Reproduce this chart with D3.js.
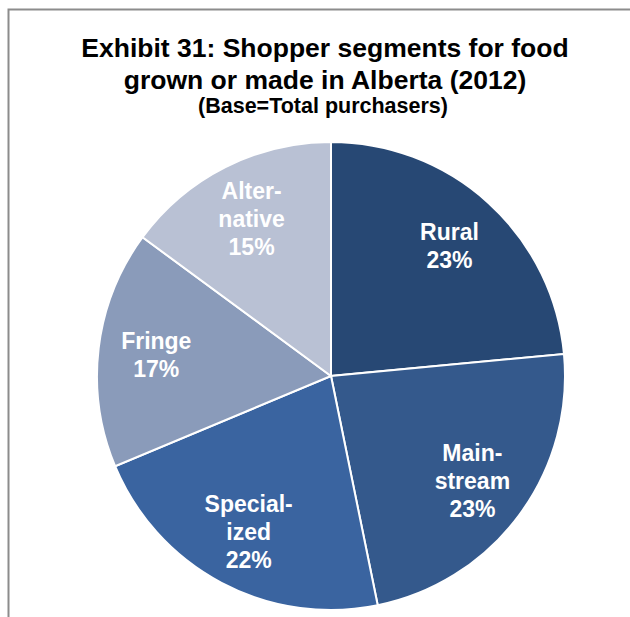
<!DOCTYPE html>
<html>
<head>
<meta charset="utf-8">
<script src="https://cdn.jsdelivr.net/npm/d3@7/dist/d3.min.js"></script>
<style>
  body { margin: 0; background: #fff; }
  svg { display: block; font-family: "Liberation Sans", Arial, sans-serif; }
</style>
</head>
<body>
<svg id="chart"></svg>
<script>
const segments = ['Rural', 'Mainstream', 'Specialized', 'Fringe', 'Alternative'];
const shares = [23.5, 23.3, 21.9, 16.4, 14.9];
const labelLines = [
  ['Rural', '23%'],
  ['Main-', 'stream', '23%'],
  ['Special-', 'ized', '22%'],
  ['Fringe', '17%'],
  ['Alter-', 'native', '15%']
];
const colors = ['#274874', '#34598c', '#3a64a0', '#8a9bba', '#b9c1d4'];

const width = 630;
const height = 617;
const cx = 331;
const cy = 376;
const radius = 234;

const svg = d3.select('#chart')
  .attr('width', width)
  .attr('height', height);

// frame
svg.append('path')
  .attr('d', `M8.5,${height} V9.5 H${width}`)
  .attr('fill', 'none')
  .attr('stroke', '#8c8c8c')
  .attr('stroke-width', 2);

// title
const title = svg.append('text')
  .attr('text-anchor', 'middle')
  .attr('font-weight', 'bold')
  .attr('fill', '#000');
title.append('tspan').attr('x', 325).attr('y', 57).attr('font-size', 26.5)
  .text('Exhibit 31: Shopper segments for food');
title.append('tspan').attr('x', 325).attr('y', 89).attr('font-size', 26.5)
  .text('grown or made in Alberta (2012)');
title.append('tspan').attr('x', 323).attr('y', 113).attr('font-size', 21.5)
  .text('(Base=Total purchasers)');

const data = segments.map((s, i) => ({ name: s, value: shares[i], lines: labelLines[i], color: colors[i] }));

const pie = d3.pie()
  .sort(null)
  .value(d => d.value);

const arc = d3.arc()
  .innerRadius(0)
  .outerRadius(radius);

const labelArc = d3.arc()
  .innerRadius(176)
  .outerRadius(176);

const g = svg.append('g')
  .attr('transform', `translate(${cx},${cy})`);

const arcs = pie(data);

g.selectAll('path')
  .data(arcs)
  .enter()
  .append('path')
  .attr('d', arc)
  .attr('fill', d => d.data.color)
  .attr('stroke', 'white')
  .style('stroke-width', '2px');

const lineH = 28;
g.selectAll('text.lbl')
  .data(arcs)
  .enter()
  .append('text')
  .attr('class', 'lbl')
  .attr('text-anchor', 'middle')
  .attr('font-weight', 'bold')
  .attr('font-size', 23)
  .attr('fill', 'white')
  .each(function (d) {
    const [x, y] = labelArc.centroid(d);
    const n = d.data.lines.length;
    d3.select(this).selectAll('tspan')
      .data(d.data.lines)
      .enter()
      .append('tspan')
      .attr('x', x)
      .attr('y', (t, i) => y + (i - (n - 1) / 2) * lineH + 8)
      .text(t => t);
  });
</script>
</body>
</html>
